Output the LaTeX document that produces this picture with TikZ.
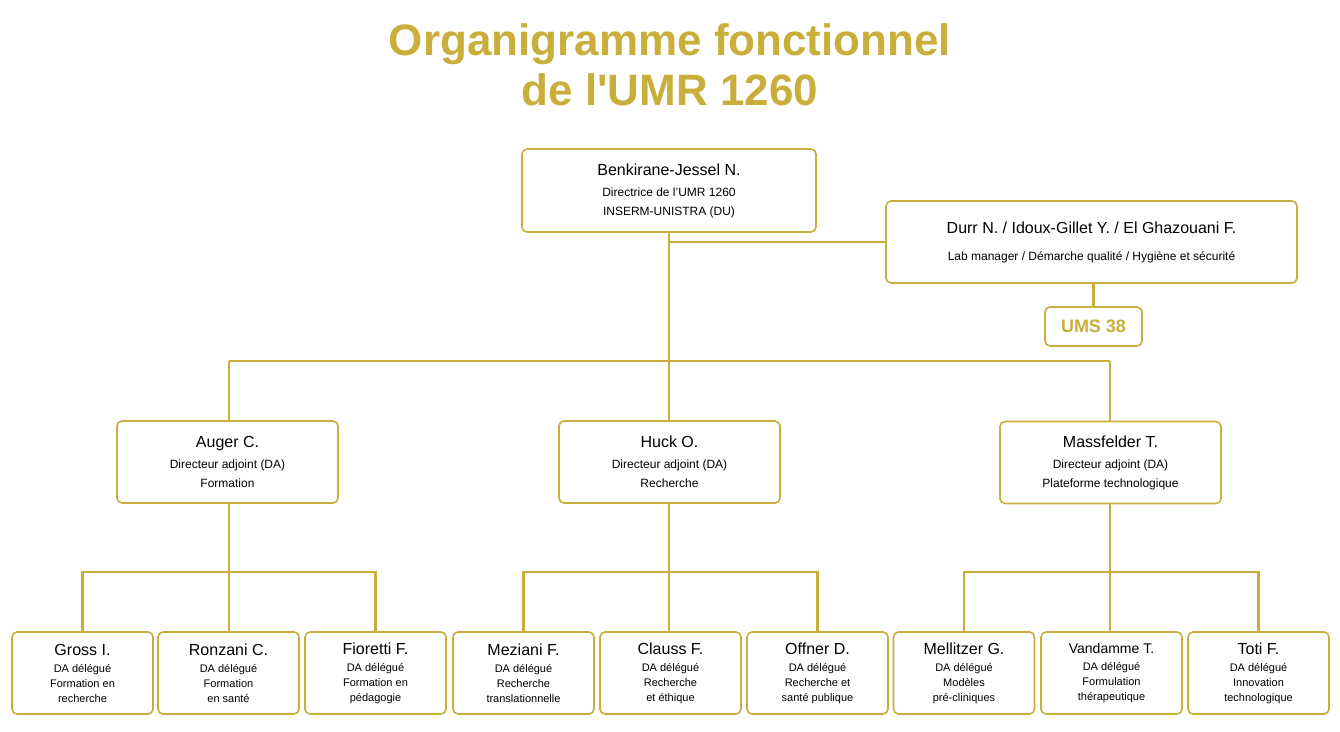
\documentclass[tikz,border=0pt]{standalone}
\usepackage{fontspec}
\setmainfont{Liberation Sans}
\definecolor{gold}{HTML}{C9AE3C}
\begin{document}
\begin{tikzpicture}[x=1pt,y=-1pt,
 box/.style={draw=gold,line width=1.6pt,rounded corners=5pt,fill=white,align=center,inner sep=0pt},
 link/.style={draw=gold,line width=2.2pt},
 bx/.style={box,minimum width=221pt,minimum height=82pt,font=\fontsize{12}{19}\selectfont},
 sm/.style={box,minimum width=141pt,minimum height=82pt,font=\fontsize{11}{15}\selectfont}]
\useasboundingbox (0,0) rectangle (1340,731);
\node[font=\bfseries\fontsize{44}{50}\selectfont,text=gold,align=center] (title) at (670,65) {Organigramme fonctionnel\\de l\textquotesingle UMR 1260};
\coordinate (h1) at (669,361); \coordinate (hl) at (229,361); \coordinate (hr) at (1110,361);
\coordinate (d) at (669,242);
\coordinate (a1) at (229,572); \coordinate (b1) at (669,572); \coordinate (c1) at (1110,572);
\node[box,minimum width=294pt,minimum height=83pt,font=\fontsize{12}{19}\selectfont] (top) at (669,190.5) {{\fontsize{16}{18}\selectfont Benkirane-Jessel N.}\\[2pt]Directrice de l'UMR 1260\\INSERM-UNISTRA (DU)};
\node[box,minimum width=411pt,minimum height=82pt,font=\fontsize{12}{19}\selectfont] (durr) at (1091.5,242) {{\fontsize{16}{18}\selectfont Durr N. / Idoux-Gillet Y. / El Ghazouani F.}\\[8pt]Lab manager / Démarche qualité / Hygiène et sécurité};
\node[box,minimum width=97pt,minimum height=39pt,font=\bfseries\fontsize{18}{20}\selectfont,text=gold] (ums) at (1093.5,326.5) {UMS 38};
\node[bx] (auger) at (227.5,462) {{\fontsize{16}{18}\selectfont Auger C.}\\[2pt]Directeur adjoint (DA)\\Formation};
\node[bx] (huck) at (669.5,462) {{\fontsize{16}{18}\selectfont Huck O.}\\[2pt]Directeur adjoint (DA)\\Recherche};
\node[bx] (mass) at (1110.5,462.5) {{\fontsize{16}{18}\selectfont Massfelder T.}\\[2pt]Directeur adjoint (DA)\\Plateforme technologique};
\node[sm] (gross) at (82.5,673) {{\fontsize{16}{18}\selectfont Gross I.}\\[2pt]DA délégué\\Formation en\\recherche};
\node[sm] (ronzani) at (228.5,673) {{\fontsize{16}{18}\selectfont Ronzani C.}\\[2pt]DA délégué\\Formation\\en santé};
\node[sm] (fioretti) at (375.5,673) {{\fontsize{16}{18}\selectfont Fioretti F.}\\[2pt]DA délégué\\Formation en\\pédagogie};
\node[sm] (meziani) at (523.5,673) {{\fontsize{16}{18}\selectfont Meziani F.}\\[2pt]DA délégué\\Recherche\\translationnelle};
\node[sm] (clauss) at (670.5,673) {{\fontsize{16}{18}\selectfont Clauss F.}\\[2pt]DA délégué\\Recherche\\et éthique};
\node[sm] (offner) at (817.5,673) {{\fontsize{16}{18}\selectfont Offner D.}\\[2pt]DA délégué\\Recherche et\\santé publique};
\node[sm] (mell) at (964,673) {{\fontsize{16}{18}\selectfont Mellitzer G.}\\[2pt]DA délégué\\Modèles\\pré-cliniques};
\node[sm] (vand) at (1111.5,673) {{\fontsize{14}{18}\selectfont Vandamme T.}\\[2pt]DA délégué\\Formulation\\thérapeutique};
\node[sm] (toti) at (1258.5,673) {{\fontsize{16}{18}\selectfont Toti F.}\\[2pt]DA délégué\\Innovation\\technologique};
\draw[link] (top.south) -- (h1);
\draw[link] (d) -- (durr.west);
\draw[link] (durr.south -| ums.north) -- (ums.north);
\draw[link] (hl) -- (hr);
\draw[link] (hl) -- (hl |- auger.north);
\draw[link] (hr) -- (hr |- mass.north);
\draw[link] (h1) -- (h1 |- huck.north);
\draw[link] (a1 |- auger.south) -- (a1);
\draw[link] (gross.north) |- (a1) -| (fioretti.north);
\draw[link] (a1) -- (a1 |- ronzani.north);
\draw[link] (b1 |- huck.south) -- (b1);
\draw[link] (meziani.north) |- (b1) -| (offner.north);
\draw[link] (b1) -- (b1 |- clauss.north);
\draw[link] (c1 |- mass.south) -- (c1);
\draw[link] (mell.north) |- (c1) -| (toti.north);
\draw[link] (c1) -- (c1 |- vand.north);
\end{tikzpicture}
\end{document}
